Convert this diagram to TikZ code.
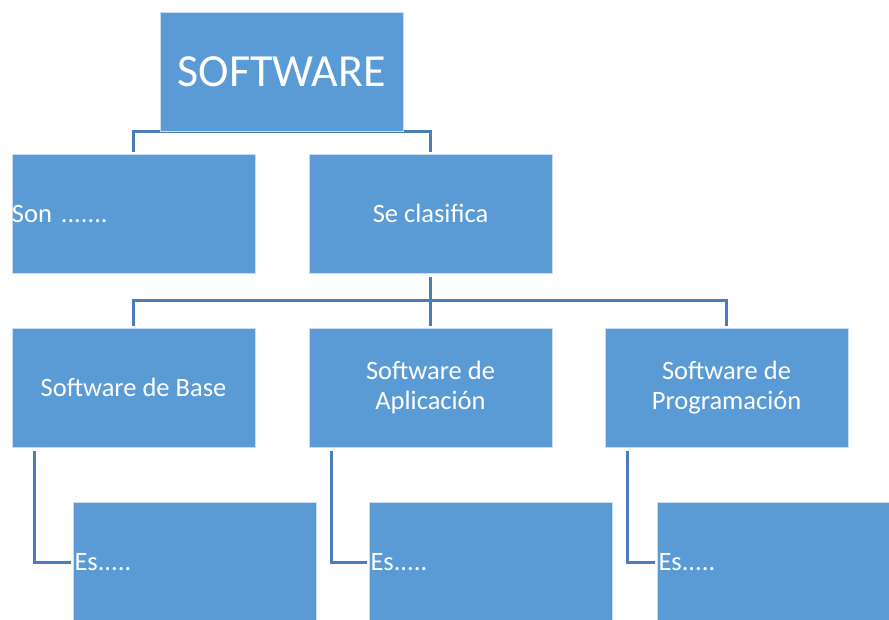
\documentclass[tikz,border=0pt]{standalone}
\usepackage{fontspec}
\setmainfont{Carlito}
\usetikzlibrary{calc,backgrounds}
\definecolor{boxblue}{HTML}{5B9BD5}
\definecolor{boxedge}{HTML}{C9DDF0}
\definecolor{connblue}{HTML}{4A7EBB}
\begin{document}
\begin{tikzpicture}[x=1pt,y=-1pt,
  box/.style={fill=boxblue,draw=boxedge,line width=0.8pt,minimum width=243pt,
    minimum height=119pt,inner sep=0pt,text=white,
    font=\fontsize{26.5}{30}\selectfont,align=center},
  leftbox/.style={box,text width=241pt,align=left,inner xsep=1pt},
  conn/.style={draw=connblue,line width=2.5pt}]
\useasboundingbox (0,0) rectangle (889,619);

\node[box,minimum width=242.5pt,font=\fontsize{46}{50}\selectfont] (sw) at (281.75,71.5) {SOFTWARE};
\node[leftbox,inner xsep=0pt,text width=243pt] (son) at (133.5,213.5) {Son .......};
\node[box] (cla) at (430.5,213.5) {Se clasifica};
\node[box] (base) at (133.5,387.5) {Software de Base};
\node[box] (apl) at (430.5,387.5) {Software de\\Aplicación};
\node[box] (prog) at (726.5,387.5) {Software de\\Programación};
\node[leftbox,minimum height=121pt] (es1) at (195,562.5) {Es.....};
\node[leftbox,minimum height=121pt] (es2) at (491,562.5) {Es.....};
\node[leftbox,minimum height=121pt] (es3) at (779,562.5) {Es.....};

\begin{scope}[on background layer]
  \draw[conn] ($(son.north)+(0,-2)$) |- (sw.south);
  \draw[conn] ($(cla.north)+(0,-2)$) |- (sw.south);
  \coordinate (j) at ($(cla.south)+(0,27)$);
  \draw[conn] ($(cla.south)+(0,4)$) -- (j);
  \draw[conn] (j) -| ($(base.north)+(0,-2)$);
  \draw[conn] (j) -- ($(apl.north)+(0,-2)$);
  \draw[conn] (j) -| ($(prog.north)+(0,-2)$);
  \draw[conn] ($(base.south west)+(23,4)$) |- ($(es1.west)+(-2,0)$);
  \draw[conn] ($(apl.south west)+(23,4)$) |- ($(es2.west)+(-2,0)$);
  \draw[conn] ($(prog.south west)+(23,4)$) |- ($(es3.west)+(-2,0)$);
\end{scope}
\end{tikzpicture}
\end{document}
